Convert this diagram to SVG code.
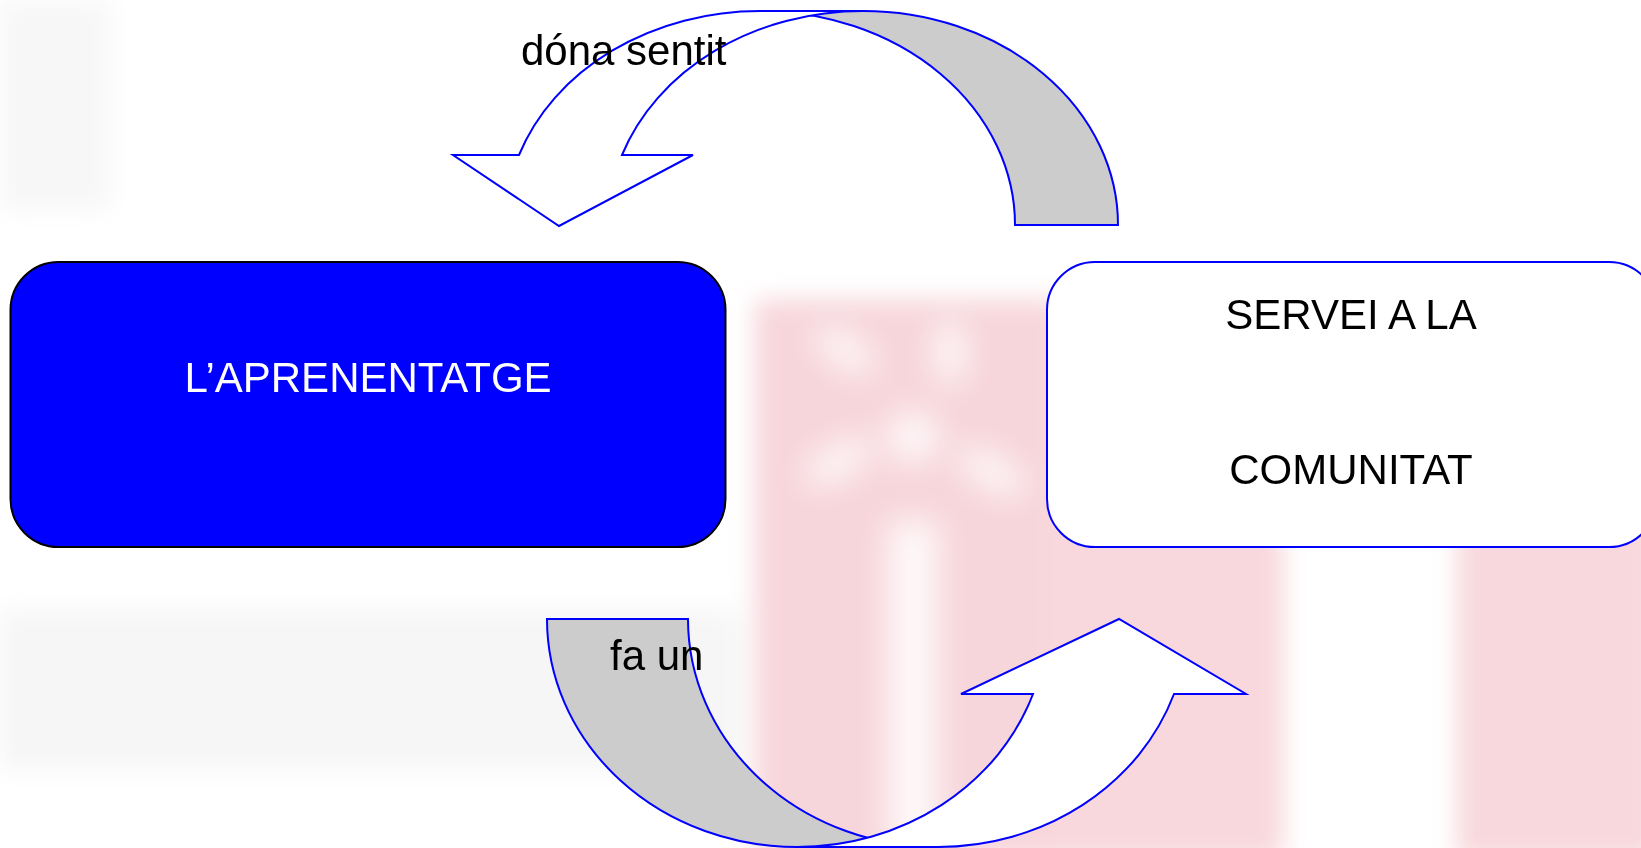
<svg xmlns="http://www.w3.org/2000/svg" width="1641" height="848" viewBox="0 0 1641 848">
  <style>
    .lbl { font-family: "Liberation Sans", Arial, sans-serif; font-size: 42px; }
    .arrow { stroke: #0000ff; stroke-width: 2; stroke-linejoin: miter; }
    .back { fill: #cccccc; }
    .front { fill: #ffffff; }
  </style>
  <defs>
    <filter id="blur" x="-20%" y="-20%" width="140%" height="140%">
      <feGaussianBlur stdDeviation="12"/>
    </filter>
    <filter id="blur2" x="-50%" y="-50%" width="200%" height="200%">
      <feGaussianBlur stdDeviation="16"/>
    </filter>
  </defs>
  <rect x="0" y="0" width="1641" height="848" fill="#ffffff"/>
  <g id="watermark">
    <g filter="url(#blur)">
      <rect x="0" y="0" width="110" height="210" fill="#f7f7f7"/>
      <rect x="0" y="610" width="740" height="160" fill="#f6f6f6"/>
      <rect x="755" y="300" width="285" height="560" fill="#f7d6db"/>
      <rect x="1040" y="300" width="243" height="560" fill="#f8d8dc"/>
      <rect x="1457" y="300" width="200" height="560" fill="#f8d8dc"/>
    </g>
    <g filter="url(#blur2)" fill="#ffffff" opacity="0.85">
      <ellipse cx="845" cy="350" rx="34" ry="16" transform="rotate(35 845 350)"/>
      <ellipse cx="950" cy="352" rx="16" ry="34"/>
      <circle cx="913" cy="437" r="26"/>
      <ellipse cx="992" cy="472" rx="38" ry="16" transform="rotate(30 992 472)"/>
      <ellipse cx="838" cy="462" rx="38" ry="16" transform="rotate(-30 838 462)"/>
      <rect x="888" y="520" width="50" height="340"/>
    </g>
  </g>
  <g id="connectors">
    <g id="arrow-top">
      <path class="arrow back" d="M 760,11 L 863,11 A 255 214 0 0 1 1118,225 L 1015,225 A 255 214 0 0 0 760,11 Z"/>
      <path class="arrow front" d="M 519,155 A 255 214 0 0 1 760,11 L 863,11 A 255 214 0 0 0 622,155 L 693,155 L 559,226 L 453,155 Z"/>
      <text class="lbl" x="521" y="65" fill="#000000">dóna sentit</text>
    </g>
    <g id="arrow-bottom">
      <path class="arrow back" d="M 547,619 L 688,619 A 250 228 0 0 0 938,847 L 797,847 A 250 228 0 0 1 547,619 Z"/>
      <path class="arrow front" d="M 1174,694 L 1246,694 L 1119,619 L 961,694 L 1033,694 A 250 228 0 0 1 797,847 L 938,847 A 250 228 0 0 0 1174,694 Z"/>
      <text class="lbl" x="610" y="670" fill="#000000">fa un</text>
    </g>
  </g>
  <g id="node-aprenentatge">
    <rect x="10.5" y="262" width="715" height="285" rx="48" ry="48" fill="#0000ff" stroke="#000000" stroke-width="2"/>
    <text class="lbl" x="368" y="392" text-anchor="middle" fill="#ffffff">L’APRENENTATGE</text>
  </g>
  <g id="node-servei">
    <rect x="1047" y="262" width="610" height="285" rx="48" ry="48" fill="#ffffff" stroke="#0000ff" stroke-width="2"/>
    <text class="lbl" x="1351" y="329" text-anchor="middle" fill="#000000">SERVEI A LA</text>
    <text class="lbl" x="1351" y="484" text-anchor="middle" fill="#000000">COMUNITAT</text>
  </g>
</svg>
